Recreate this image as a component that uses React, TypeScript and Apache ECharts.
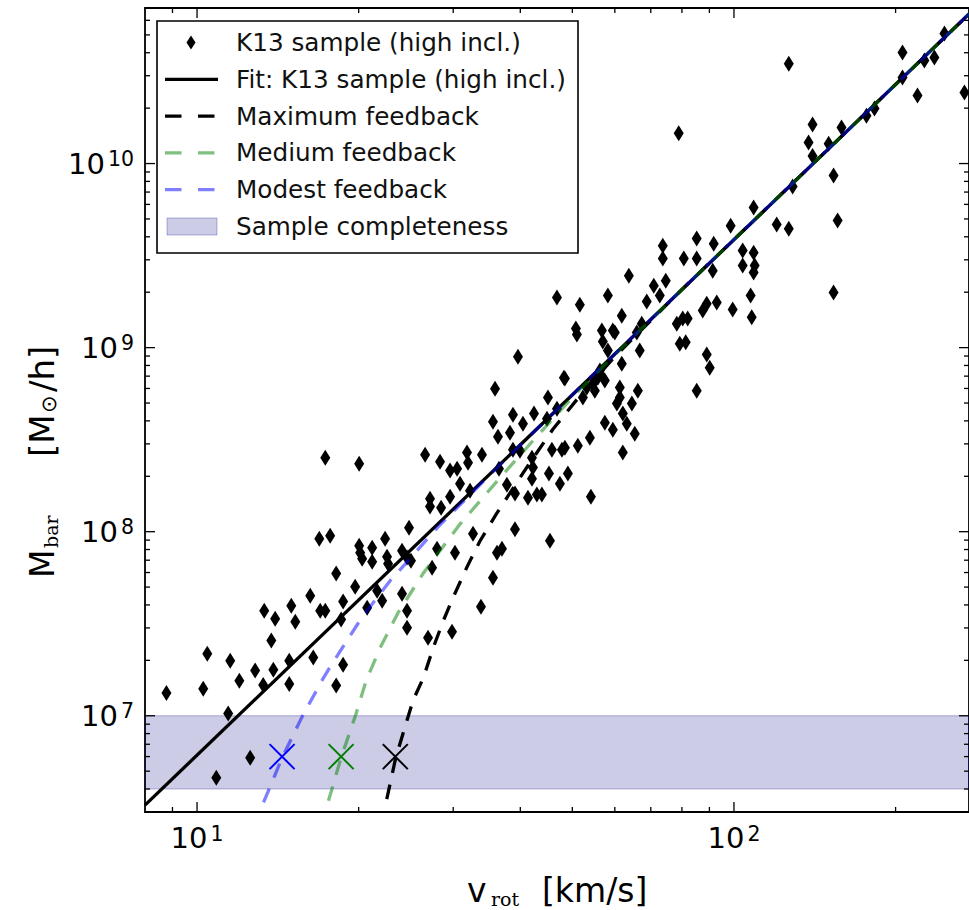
import React, { useEffect, useRef } from "react";
import * as echarts from "echarts";

// ---- axis extents ----
const X_MIN = 8;
const X_MAX = 274;
const Y_MIN = 3e6;
const Y_MAX = 7e10;

// ---- K13 sample (high incl.) ----
const K13_V = [
  8.77, 10.27, 10.45, 11.53, 11.43, 10.86, 12.56, 11.99, 12.83, 13.28,
  13.87, 13.75, 13.34, 13.98, 14.98, 15.24, 14.85, 14.85, 16.46, 18.71,
  18.16, 17.33, 20.04, 16.89, 17.7, 18.16, 19.7, 16.25, 16.96, 17.33,
  18.71, 18.55, 20.74, 21.65, 22.12, 20.04, 20.13, 20.3, 21.19, 21.19,
  22.4, 22.59, 22.69, 24.09, 24.61, 25.03, 24.82, 24.09, 24.61, 24.61,
  26.93, 29.85, 27.4, 27.99, 30.23, 32.66, 33.79, 35.58, 36.19, 36.98,
  39.1, 45.43, 26.59, 28.35, 29.6, 30.5, 31.83, 31.97, 33.94, 30.89,
  32.24, 27.16, 27.16, 28.48, 29.6, 36.5, 37.77, 39.1, 41.34, 42.95,
  43.88, 42.05, 42.23, 45.23, 47.41, 49.06, 54.14, 35.58, 36.35, 38.76,
  38.27, 40.46, 42.42, 44.85, 38.76, 39.94, 42.05, 45.81, 47.82, 51.2,
  53.91, 57.48, 59.48, 35.89, 39.6, 48.23, 45.04, 46.81, 53.21, 55.78,
  55.07, 54.6, 56.27, 57.48, 60.52, 61.3, 46.81, 51.64, 58.23, 50.77,
  50.99, 56.75, 59.48, 56.99, 58.23, 48.43, 56.27, 52.31, 61.3, 62.09,
  64.54, 66.22, 63.15, 65.35, 48.43, 62.09, 63.71, 70.91, 74.64, 72.76,
  68.8, 61.82, 60.0, 67.35, 65.92, 66.77, 61.82, 78.26, 80.28, 82.0,
  79.27, 81.32, 87.47, 88.98, 92.88, 99.45, 107.4, 107.9, 88.98, 90.12,
  85.23, 73.7, 73.7, 80.64, 85.23, 85.23, 91.69, 103.8, 103.8, 108.8,
  109.3, 108.8, 91.29, 98.6, 108.8, 120.1, 126.5, 128.6, 206.0, 126.5,
  246.6, 226.3, 236.2, 206.0, 219.7, 268.7, 176.5, 182.7, 78.9, 140.1,
  137.7, 140.1, 158.6, 150.1, 153.3, 156.0, 153.3,
];
const K13_M = [
  1.33e7, 1.4e7, 2.17e7, 1.99e7, 1.03e7, 4.6e6, 5.91e6, 1.55e7, 1.76e7, 1.47e7,
  1.78e7, 2.56e7, 3.72e7, 3.37e7, 3.96e7, 3.24e7, 1.99e7, 1.49e7, 2.07e7, 1.89e7,
  1.46e7, 2.52e8, 2.34e8, 9.16e7, 9.51e7, 5.92e7, 5.02e7, 4.49e7, 3.72e7, 3.72e7,
  4.17e7, 3.33e7, 3.86e7, 4.78e7, 4.22e7, 8.39e7, 7.69e7, 7.13e7, 8.18e7, 6.87e7,
  9.16e7, 7.31e7, 6.7e7, 7.89e7, 7.23e7, 6.95e7, 1.05e8, 4.6e7, 3.72e7, 3.01e7,
  2.65e7, 2.86e7, 6.37e7, 8.09e7, 7.69e7, 9.75e7, 3.91e7, 5.62e7, 7.69e7, 8.09e7,
  1.03e8, 8.94e7, 2.62e8, 2.4e8, 2.15e8, 2.2e8, 2.69e8, 2.37e8, 2.62e8, 1.82e8,
  1.67e8, 1.51e8, 1.37e8, 1.35e8, 1.55e8, 2.2e8, 1.8e8, 1.61e8, 1.53e8, 1.59e8,
  1.59e8, 1.94e8, 2.23e8, 2.07e8, 1.82e8, 2.07e8, 1.55e8, 3.96e8, 3.28e8, 4.32e8,
  3.45e8, 3.86e8, 4.38e8, 4.11e8, 2.79e8, 2.75e8, 2.52e8, 2.79e8, 2.79e8, 2.93e8,
  3.24e8, 3.91e8, 3.58e8, 5.98e8, 8.93e8, 6.87e8, 5.35e8, 4.66e8, 6.07e8, 6.87e8,
  5.83e8, 6.37e8, 7.23e8, 6.62e8, 4.97e8, 5.35e8, 1.87e9, 1.71e9, 1.92e9, 1.27e9,
  1.18e9, 1.24e9, 1.24e9, 1.08e9, 9.64e8, 6.79e8, 7.5e8, 5.35e8, 6.07e8, 4.38e8,
  4.97e8, 5.83e8, 3.86e8, 3.41e8, 2.86e8, 2.69e8, 2.46e9, 2.17e9, 2.31e9, 1.92e9,
  1.78e9, 1.49e9, 1.21e9, 1.35e9, 1.21e9, 9.64e8, 8.18e8, 1.35e9, 1.44e9, 1.44e9,
  1.05e9, 1.07e9, 1.59e9, 1.73e9, 1.76e9, 1.61e9, 1.92e9, 1.46e9, 9.17e8, 7.78e8,
  5.83e8, 3.58e9, 3.05e9, 3.05e9, 3.05e9, 3.91e9, 3.67e9, 3.37e9, 2.79e9, 3.28e9,
  2.79e9, 2.56e9, 2.62e9, 4.6e9, 5.77e9, 4.66e9, 4.43e9, 7.5e9, 4.01e10, 3.49e10,
  5.09e10, 3.63e10, 3.77e10, 2.93e10, 2.34e10, 2.43e10, 1.82e10, 1.99e10, 1.46e10, 1.63e10,
  1.3e10, 1.1e10, 1.57e10, 1.28e10, 8.61e9, 4.9e9, 1.99e9,
];

// ---- Fit: K13 sample (high incl.) ----
const FIT_V = [8, 274];
const FIT_M = [3.27e6, 6.49e10];

// ---- feedback models ----
const MAX_FB_V = [22.56, 23.45, 25.25, 26.4, 27.55, 28.75, 30.0, 31.8, 33.65, 36.1, 41.1, 46, 52, 60, 80, 274];
const MAX_FB_M = [3.52e6, 5.93e6, 1.21e7, 1.61e7, 2.35e7, 3.28e7, 4.4e7, 6.4e7, 8.9e7, 1.25e8, 2.23e8, 3.6e8, 5.6e8, 8.95e8, 2.07e9, 6.49e10];

const MED_FB_V = [17.57, 18.55, 19.79, 20.65, 21.93, 23.68, 26.36, 28.35, 30.89, 36.66, 42.23, 50, 60, 80, 274];
const MED_FB_M = [3.45e6, 5.93e6, 1.03e7, 1.55e7, 2.34e7, 3.63e7, 5.92e7, 7.89e7, 1.1e8, 1.96e8, 3.12e8, 5.37e8, 9.15e8, 2.07e9, 6.49e10];

const MOD_FB_V = [13.3, 14.41, 15.67, 17.08, 17.83, 20.28, 22.89, 24.41, 28, 35, 50, 80, 274];
const MOD_FB_M = [3.38e6, 5.93e6, 9.8e6, 1.55e7, 1.91e7, 3.42e7, 5.42e7, 6.67e7, 1.05e8, 2.02e8, 5.55e8, 2.07e9, 6.49e10];

// ---- crosses ----
const CROSS_V = [14.4, 18.55, 23.4];
const CROSS_M = [6e6, 6e6, 6e6];
const CROSS_COLORS = ["#0000ff", "#008000", "#000000"];

// ---- sample completeness band ----
const BAND_LOW = 4e6;
const BAND_HIGH = 1e7;

// ---- ticks ----
const X_MAJOR = [10, 100];
const X_MAJOR_EXP = ["1", "2"];
const X_MINOR = [9, 20, 30, 40, 50, 60, 70, 80, 90, 200];
const Y_MAJOR = [1e7, 1e8, 1e9, 1e10];
const Y_MAJOR_EXP = ["7", "8", "9", "10"];
const Y_MINOR = [
  4e6, 5e6, 6e6, 7e6, 8e6, 9e6,
  2e7, 3e7, 4e7, 5e7, 6e7, 7e7, 8e7, 9e7,
  2e8, 3e8, 4e8, 5e8, 6e8, 7e8, 8e8, 9e8,
  2e9, 3e9, 4e9, 5e9, 6e9, 7e9, 8e9, 9e9,
  2e10, 3e10, 4e10, 5e10, 6e10,
];

// ---- legend ----
const LEGEND_LABELS = [
  "K13 sample (high incl.)",
  "Fit: K13 sample (high incl.)",
  "Maximum feedback",
  "Medium feedback",
  "Modest feedback",
  "Sample completeness",
];

const SANS = "DejaVu Sans";
const SERIF = "DejaVu Serif";
const GREEN_A = "rgba(0,128,0,0.5)";
const BLUE_A = "rgba(0,0,255,0.5)";
const BAND_FILL = "rgba(0,0,128,0.2)";
const BAND_EDGE = "rgba(0,0,128,0.28)";

const zip = (a: number[], b: number[]) => a.map((v, i) => [v, b[i]]);

const TICK_RICH = {
  b: { fontSize: 29, fontFamily: SANS, fill: "#000", lineHeight: 30 },
  s: { fontSize: 20.5, fontFamily: SANS, fill: "#000", lineHeight: 14, verticalAlign: "top", padding: [0, 0, 0, 3] },
};

export default function App() {
  const ref = useRef<HTMLDivElement>(null);

  useEffect(() => {
    if (!ref.current) return;
    const chart = echarts.init(ref.current, undefined, { renderer: "svg" });

    const tickLine = (x1: number, y1: number, x2: number, y2: number) => ({
      type: "line",
      shape: { x1, y1, x2, y2 },
      style: { stroke: "#000", lineWidth: 1.3 },
    });

    const rowY = (i: number) => 42.5 + i * 36.8;
    const legendEls: any[] = [
      {
        type: "rect",
        shape: { x: 157, y: 21, width: 421, height: 232 },
        style: { fill: "#fff", stroke: "#000", lineWidth: 1.6 },
        z: 100,
      },
      {
        type: "polygon",
        shape: { points: [[191, rowY(0) - 7], [195.5, rowY(0)], [191, rowY(0) + 7], [186.5, rowY(0)]] },
        style: { fill: "#000" },
        z: 101,
      },
      {
        type: "line",
        shape: { x1: 165, y1: rowY(1), x2: 218, y2: rowY(1) },
        style: { stroke: "#000", lineWidth: 3.3 },
        z: 101,
      },
      {
        type: "line",
        shape: { x1: 165, y1: rowY(2), x2: 218, y2: rowY(2) },
        style: { stroke: "#000", lineWidth: 3.3, lineDash: [16.5, 16.5] },
        z: 101,
      },
      {
        type: "line",
        shape: { x1: 165, y1: rowY(3), x2: 218, y2: rowY(3) },
        style: { stroke: GREEN_A, lineWidth: 3.3, lineDash: [16.5, 16.5] },
        z: 101,
      },
      {
        type: "line",
        shape: { x1: 165, y1: rowY(4), x2: 218, y2: rowY(4) },
        style: { stroke: BLUE_A, lineWidth: 3.3, lineDash: [16.5, 16.5] },
        z: 101,
      },
      {
        type: "rect",
        shape: { x: 167, y: rowY(5) - 8.5, width: 50, height: 17 },
        style: { fill: BAND_FILL, stroke: BAND_EDGE, lineWidth: 1 },
        z: 101,
      },
      ...LEGEND_LABELS.map((t, i) => ({
        type: "text",
        x: 236,
        y: rowY(i),
        z: 101,
        style: { text: t, fontSize: 24.7, fontFamily: SANS, fill: "#111", align: "left", verticalAlign: "middle" },
      })),
    ];

    const titleEls: any[] = [
      { type: "text", x: 467, y: 890, style: { text: "v", fontSize: 33, fontFamily: SANS, fill: "#000", align: "left", verticalAlign: "middle" } },
      { type: "text", x: 491, y: 899, style: { text: "rot", fontSize: 19, fontFamily: SERIF, fill: "#000", align: "left", verticalAlign: "middle" } },
      { type: "text", x: 542, y: 890, style: { text: "[km/s]", fontSize: 33, fontFamily: SANS, fill: "#000", align: "left", verticalAlign: "middle" } },
      {
        type: "group",
        x: 42,
        y: 578,
        rotation: Math.PI / 2,
        children: [
          { type: "text", x: 0, y: 0, style: { text: "M", fontSize: 33, fontFamily: SANS, fill: "#000", align: "left", verticalAlign: "middle" } },
          { type: "text", x: 30, y: 9, style: { text: "bar", fontSize: 19, fontFamily: SERIF, fill: "#000", align: "left", verticalAlign: "middle" } },
          { type: "text", x: 121, y: 0, style: { text: "[M", fontSize: 34, fontFamily: SANS, fill: "#000", align: "left", verticalAlign: "middle" } },
          { type: "text", x: 165, y: 7, style: { text: "⊙", fontSize: 21, fontFamily: SANS, fill: "#000", align: "left", verticalAlign: "middle" } },
          { type: "text", x: 186, y: 0, style: { text: "/h]", fontSize: 34, fontFamily: SANS, fill: "#000", align: "left", verticalAlign: "middle" } },
        ],
      },
    ];

    const axisCommon = {
      axisLine: { show: false },
      axisTick: { show: false },
      axisLabel: { show: false },
      splitLine: { show: false },
      minorTick: { show: false },
      minorSplitLine: { show: false },
    };

    const option: any = {
      animation: false,
      backgroundColor: "#fff",
      grid: { left: 145, top: 8, width: 825, height: 804, show: true, borderColor: "#000", borderWidth: 1.8, backgroundColor: "transparent" },
      xAxis: { type: "log", logBase: 10, min: X_MIN, max: X_MAX, ...axisCommon },
      yAxis: { type: "log", logBase: 10, min: Y_MIN, max: Y_MAX, ...axisCommon },
      graphic: { elements: [...legendEls, ...titleEls] },
      series: [
        {
          name: "Sample completeness",
          type: "custom",
          z: 1,
          silent: true,
          clip: true,
          data: [[X_MIN, BAND_LOW, X_MAX, BAND_HIGH]],
          encode: { x: [0, 2], y: [1, 3] },
          renderItem: (params: any, api: any) => {
            const p0 = api.coord([api.value(0), api.value(1)]);
            const p1 = api.coord([api.value(2), api.value(3)]);
            return {
              type: "rect",
              shape: { x: p0[0], y: p1[1], width: p1[0] - p0[0], height: p0[1] - p1[1] },
              style: { fill: BAND_FILL, stroke: BAND_EDGE, lineWidth: 1 },
            };
          },
        },
        {
          name: "K13 sample (high incl.)",
          type: "scatter",
          z: 3,
          symbol: "diamond",
          symbolSize: [10, 16],
          itemStyle: { color: "#000", opacity: 1 },
          data: zip(K13_V, K13_M),
        },
        {
          name: "Fit: K13 sample (high incl.)",
          type: "line",
          z: 4,
          symbol: "none",
          lineStyle: { color: "#000", width: 3.3 },
          data: zip(FIT_V, FIT_M),
        },
        {
          name: "Maximum feedback",
          type: "line",
          z: 5,
          symbol: "none",
          lineStyle: { color: "#000", width: 3.3, type: [15, 12] },
          data: zip(MAX_FB_V, MAX_FB_M),
        },
        {
          name: "Medium feedback",
          type: "line",
          z: 6,
          symbol: "none",
          lineStyle: { color: GREEN_A, width: 3.3, type: [15, 12] },
          data: zip(MED_FB_V, MED_FB_M),
        },
        {
          name: "Modest feedback",
          type: "line",
          z: 7,
          symbol: "none",
          lineStyle: { color: BLUE_A, width: 3.3, type: [15, 12] },
          data: zip(MOD_FB_V, MOD_FB_M),
        },
        {
          name: "crosses",
          type: "custom",
          z: 8,
          silent: true,
          data: zip(CROSS_V, CROSS_M),
          encode: { x: 0, y: 1 },
          renderItem: (params: any, api: any) => {
            const p = api.coord([api.value(0), api.value(1)]);
            const c = CROSS_COLORS[params.dataIndex];
            const h = 12.5;
            return {
              type: "group",
              children: [
                { type: "line", shape: { x1: p[0] - h, y1: p[1] - h, x2: p[0] + h, y2: p[1] + h }, style: { stroke: c, lineWidth: 2 } },
                { type: "line", shape: { x1: p[0] - h, y1: p[1] + h, x2: p[0] + h, y2: p[1] - h }, style: { stroke: c, lineWidth: 2 } },
              ],
            };
          },
        },
        {
          name: "xticks",
          type: "custom",
          z: 10,
          silent: true,
          clip: false,
          data: [...X_MAJOR.map((v) => [v, Y_MIN, 1]), ...X_MINOR.map((v) => [v, Y_MIN, 0])],
          encode: { x: 0, y: 1 },
          renderItem: (params: any, api: any) => {
            const cs = params.coordSys;
            const p = api.coord([api.value(0), Y_MIN]);
            const len = api.value(2) ? 10 : 5;
            const top = cs.y;
            const bottom = cs.y + cs.height;
            return { type: "group", children: [tickLine(p[0], bottom, p[0], bottom - len), tickLine(p[0], top, p[0], top + len)] };
          },
        },
        {
          name: "yticks",
          type: "custom",
          z: 10,
          silent: true,
          clip: false,
          data: [...Y_MAJOR.map((v) => [X_MIN, v, 1]), ...Y_MINOR.map((v) => [X_MIN, v, 0])],
          encode: { x: 0, y: 1 },
          renderItem: (params: any, api: any) => {
            const cs = params.coordSys;
            const p = api.coord([X_MIN, api.value(1)]);
            const len = api.value(2) ? 10 : 5;
            const left = cs.x;
            const right = cs.x + cs.width;
            return { type: "group", children: [tickLine(left, p[1], left + len, p[1]), tickLine(right, p[1], right - len, p[1])] };
          },
        },
        {
          name: "xlabels",
          type: "custom",
          z: 10,
          silent: true,
          clip: false,
          data: X_MAJOR.map((v, i) => [v, Y_MIN, i]),
          encode: { x: 0, y: 1 },
          renderItem: (params: any, api: any) => {
            const cs = params.coordSys;
            const p = api.coord([api.value(0), Y_MIN]);
            const exp = X_MAJOR_EXP[api.value(2)];
            return {
              type: "text",
              x: p[0],
              y: cs.y + cs.height + 11,
              style: { text: `{b|10}{s|${exp}}`, align: "center", verticalAlign: "top", rich: TICK_RICH },
            };
          },
        },
        {
          name: "ylabels",
          type: "custom",
          z: 10,
          silent: true,
          clip: false,
          data: Y_MAJOR.map((v, i) => [X_MIN, v, i]),
          encode: { x: 0, y: 1 },
          renderItem: (params: any, api: any) => {
            const cs = params.coordSys;
            const p = api.coord([X_MIN, api.value(1)]);
            const exp = Y_MAJOR_EXP[api.value(2)];
            return {
              type: "text",
              x: cs.x - 11,
              y: p[1],
              style: { text: `{b|10}{s|${exp}}`, align: "right", verticalAlign: "middle", rich: TICK_RICH },
            };
          },
        },
      ],
    };

    chart.setOption(option);
    return () => chart.dispose();
  }, []);

  return (
    <div
      ref={ref}
      style={{ position: "absolute", left: 0, top: 0, width: 969, height: 910, background: "#fff" }}
    />
  );
}
